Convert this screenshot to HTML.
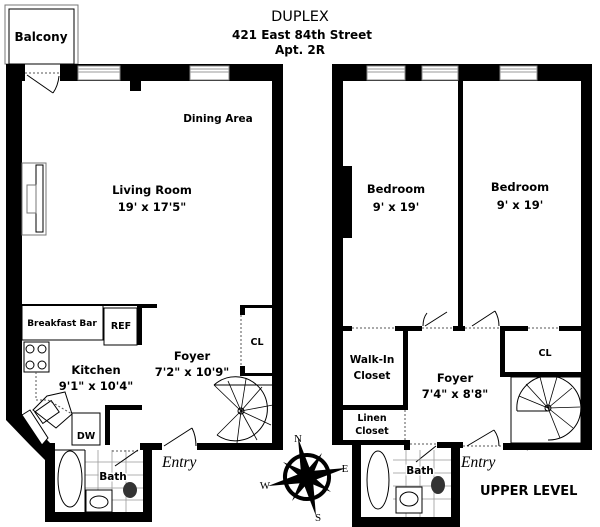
<!DOCTYPE html>
<html><head><meta charset="utf-8"><style>
html,body{margin:0;padding:0;background:#fff}
svg{display:block}
text{font-family:"DejaVu Sans","Liberation Sans",sans-serif;font-weight:bold;fill:#000}
</style></head><body>
<svg width="600" height="527" viewBox="0 0 600 527" xmlns="http://www.w3.org/2000/svg">
<text x="300" y="21" text-anchor="middle" style="font-weight:normal" font-size="14.5">DUPLEX</text>
<text x="302" y="39" text-anchor="middle" font-size="12">421 East 84th Street</text>
<text x="300" y="54" text-anchor="middle" font-size="12">Apt. 2R</text>

<rect x="5" y="5" width="73" height="59" fill="none" stroke="#777" stroke-width="1"/>
<rect x="9" y="9" width="65" height="55" fill="none" stroke="#000" stroke-width="1"/>
<text x="41" y="41" text-anchor="middle" font-size="12">Balcony</text>
<g fill="#000">
<rect x="6" y="64" width="19" height="17"/>
<rect x="60" y="64" width="223" height="17"/>
<rect x="6" y="64" width="16" height="352"/>
<polygon points="6,414 22,414 52,445 45,456 45,460 30,445 6,420"/>
<rect x="272" y="64" width="11" height="386"/>
<rect x="197" y="443" width="86" height="7"/>
<rect x="130" y="81" width="11" height="10"/>
<rect x="45" y="443" width="10" height="79"/>
<rect x="45" y="512" width="107" height="10"/>
<rect x="143" y="443" width="9" height="79"/>
<rect x="140" y="443" width="22" height="7"/>
<rect x="105" y="405" width="37" height="5"/>
<rect x="105" y="405" width="5" height="40"/>
<rect x="137" y="305" width="5" height="40"/>
<rect x="142" y="305" width="15" height="3"/>
<rect x="240" y="305" width="5" height="10"/>
<rect x="240" y="366" width="5" height="10"/>
<rect x="245" y="373" width="27" height="3"/>
<rect x="240" y="305" width="32" height="3"/>
</g>
<g fill="#fff" stroke="#888" stroke-width="1">
<rect x="78" y="66" width="42" height="14"/><rect x="190" y="66" width="39" height="14"/>
</g>
<g stroke="#999"><line x1="78" y1="69" x2="120" y2="69"/><line x1="78" y1="72" x2="120" y2="72"/><line x1="190" y1="69" x2="229" y2="69"/><line x1="190" y1="72" x2="229" y2="72"/></g>
<line x1="25" y1="73" x2="60" y2="73" stroke="#555" stroke-dasharray="2,2"/>
<line x1="27" y1="75" x2="53" y2="93" stroke="#000"/>
<path d="M53,93 Q58,86 59,76" fill="none" stroke="#000"/>
<rect x="22" y="163" width="24" height="72" fill="#fff" stroke="#777"/>
<rect x="36" y="165" width="7" height="67" fill="none" stroke="#000"/>
<rect x="27" y="185" width="9" height="28" fill="none" stroke="#777"/>
<text x="218" y="122" text-anchor="middle" font-size="10.5">Dining Area</text>
<text x="152" y="194" text-anchor="middle" font-size="11.5">Living Room</text>
<text x="152" y="211" text-anchor="middle" font-size="11.5">19' x 17'5"</text>
<line x1="22" y1="305" x2="157" y2="305" stroke="#000" stroke-width="2"/>
<rect x="22" y="305" width="81" height="35" fill="none" stroke="#000"/>
<text x="62" y="326" text-anchor="middle" font-size="9">Breakfast Bar</text>
<rect x="104" y="308" width="33" height="37" fill="none" stroke="#000"/>
<text x="121" y="329" text-anchor="middle" font-size="9.5">REF</text>
<rect x="24" y="342" width="25" height="30" fill="none" stroke="#000"/>
<g fill="none" stroke="#000"><circle cx="30" cy="349" r="4"/><circle cx="42" cy="349" r="4"/><circle cx="30" cy="365" r="4"/><circle cx="42" cy="365" r="4"/></g>
<path d="M36,372 V400 H48 L72,414 V445 M72,413 H100 V445" fill="none" stroke="#555" stroke-dasharray="2,2"/>
<polygon points="47,396 65,392 72,414 56,428 33,410" fill="none" stroke="#000"/>
<rect x="37" y="405" width="20" height="14" fill="none" stroke="#000" transform="rotate(-35 47 412)"/>
<polygon points="22,415 30,410 48,438 42,445" fill="#fff" stroke="#000"/>
<rect x="72" y="413" width="28" height="32" fill="none" stroke="#000"/>
<text x="86" y="439" text-anchor="middle" font-size="9.5">DW</text>
<text x="96" y="374" text-anchor="middle" font-size="11.5">Kitchen</text>
<text x="96" y="390" text-anchor="middle" font-size="11.5">9'1" x 10'4"</text>
<text x="192" y="360" text-anchor="middle" font-size="11.5">Foyer</text>
<text x="192" y="376" text-anchor="middle" font-size="11.5">7'2" x 10'9"</text>
<text x="257" y="345" text-anchor="middle" font-size="9.5">CL</text>
<line x1="241" y1="315" x2="241" y2="366" stroke="#555" stroke-dasharray="2,2"/>
<g fill="none" stroke="#000">
<path d="M214,385 A32,32 0 1 1 217,435" />
<path d="M214,385 L272,385" />
<circle cx="241" cy="411" r="3"/>
<g stroke-width="0.8">
<line x1="241" y1="411" x2="214" y2="385"/><line x1="241" y1="411" x2="228" y2="381"/><line x1="241" y1="411" x2="246" y2="379"/><line x1="241" y1="411" x2="262" y2="387"/><line x1="241" y1="411" x2="273" y2="405"/><line x1="241" y1="411" x2="271" y2="425"/><line x1="241" y1="411" x2="257" y2="440"/><line x1="241" y1="411" x2="237" y2="443"/><line x1="241" y1="411" x2="217" y2="435"/>
</g></g>
<line x1="164" y1="446" x2="192" y2="428" stroke="#000"/>
<path d="M192,428 Q196,436 196,446" fill="none" stroke="#000"/>
<text x="162" y="467" font-style="italic" style="font-weight:normal;font-family:'Liberation Serif',serif" font-size="15.5">Entry</text>
<g stroke="#999" stroke-width="0.8"><line x1="85" y1="462" x2="143" y2="462"/><line x1="85" y1="475" x2="143" y2="475"/><line x1="85" y1="488" x2="143" y2="488"/><line x1="85" y1="500" x2="143" y2="500"/><line x1="98" y1="450" x2="98" y2="512"/><line x1="112" y1="450" x2="112" y2="512"/><line x1="126" y1="450" x2="126" y2="512"/></g>
<ellipse cx="70" cy="479" rx="12" ry="28" fill="#fff" stroke="#000"/>
<line x1="55" y1="450" x2="85" y2="450" stroke="#000"/><line x1="85" y1="450" x2="85" y2="512" stroke="#000"/>
<line x1="112" y1="451" x2="140" y2="451" stroke="#555" stroke-dasharray="2,2"/>
<line x1="138" y1="450" x2="115" y2="466" stroke="#000"/>
<rect x="86" y="490" width="26" height="22" fill="#fff" stroke="#000"/>
<ellipse cx="99" cy="502" rx="9" ry="6" fill="none" stroke="#000"/>
<ellipse cx="130" cy="490" rx="7" ry="8" fill="#333"/>
<text x="113" y="480" text-anchor="middle" font-size="10.5" stroke="#fff" stroke-width="3" paint-order="stroke">Bath</text>

<g fill="#000">
<rect x="332" y="64" width="260" height="17"/>
<rect x="332" y="64" width="11" height="381"/>
<rect x="581" y="64" width="11" height="386"/>
<rect x="458" y="64" width="5" height="267"/>
<rect x="343" y="166" width="9" height="72"/>
<rect x="343" y="326" width="9" height="5"/>
<rect x="395" y="326" width="27" height="5"/>
<rect x="453" y="326" width="12" height="5"/>
<rect x="500" y="326" width="28" height="5"/>
<rect x="559" y="326" width="22" height="5"/>
<rect x="403" y="326" width="5" height="84"/>
<rect x="343" y="405" width="65" height="5"/>
<rect x="332" y="440" width="75" height="5"/>
<rect x="500" y="326" width="5" height="50"/>
<rect x="500" y="372" width="81" height="5"/>
<rect x="352" y="443" width="9" height="84"/>
<rect x="352" y="517" width="108" height="10"/>
<rect x="451" y="443" width="9" height="84"/>
<rect x="404" y="440" width="6" height="10"/>
<rect x="437" y="442" width="26" height="6"/>
<rect x="503" y="443" width="89" height="7"/>
</g>
<g fill="#fff" stroke="#888" stroke-width="1">
<rect x="367" y="66" width="38" height="14"/><rect x="422" y="66" width="36" height="14"/><rect x="500" y="66" width="37" height="14"/>
</g>
<g stroke="#999"><line x1="367" y1="69" x2="405" y2="69"/><line x1="367" y1="72" x2="405" y2="72"/><line x1="422" y1="69" x2="458" y2="69"/><line x1="422" y1="72" x2="458" y2="72"/><line x1="500" y1="69" x2="537" y2="69"/><line x1="500" y1="72" x2="537" y2="72"/></g>
<g stroke="#555" stroke-dasharray="2,2" fill="none">
<line x1="352" y1="328" x2="395" y2="328"/><line x1="422" y1="328" x2="453" y2="328"/><line x1="465" y1="328" x2="500" y2="328"/><line x1="528" y1="328" x2="559" y2="328"/>
<line x1="405" y1="410" x2="405" y2="440"/><line x1="410" y1="444" x2="437" y2="444"/><line x1="463" y1="446" x2="503" y2="446"/>
</g>
<g fill="none" stroke="#000">
<line x1="425" y1="326" x2="447" y2="312"/><path d="M427,313 Q423,318 423,326"/>
<line x1="472" y1="326" x2="495" y2="311"/><path d="M495,311 Q499,318 499,326"/>
<line x1="467" y1="446" x2="494" y2="430"/><path d="M494,430 Q499,437 499,446"/>
<line x1="436" y1="446" x2="416" y2="462"/>
</g>
<text x="396" y="193" text-anchor="middle" font-size="11.5">Bedroom</text>
<text x="396" y="211" text-anchor="middle" font-size="11.5">9' x 19'</text>
<text x="520" y="191" text-anchor="middle" font-size="11.5">Bedroom</text>
<text x="520" y="209" text-anchor="middle" font-size="11.5">9' x 19'</text>
<text x="372" y="363" text-anchor="middle" font-size="10.5">Walk-In</text>
<text x="372" y="379" text-anchor="middle" font-size="10.5">Closet</text>
<text x="372" y="421" text-anchor="middle" font-size="9.5">Linen</text>
<text x="372" y="434" text-anchor="middle" font-size="9.5">Closet</text>
<text x="455" y="382" text-anchor="middle" font-size="11.5">Foyer</text>
<text x="455" y="398" text-anchor="middle" font-size="11.5">7'4" x 8'8"</text>
<text x="545" y="356" text-anchor="middle" font-size="9.5">CL</text>
<rect x="511" y="377" width="70" height="66" fill="none" stroke="#000"/>
<g fill="none" stroke="#000">
<path d="M517,411 A32,32 0 1 1 548,440"/>
<line x1="517" y1="411" x2="548" y2="411"/>
<circle cx="548" cy="408" r="3"/>
<g stroke-width="0.8">
<line x1="548" y1="408" x2="519" y2="396"/><line x1="548" y1="408" x2="526" y2="384"/><line x1="548" y1="408" x2="540" y2="377"/><line x1="548" y1="408" x2="557" y2="377"/><line x1="548" y1="408" x2="572" y2="388"/><line x1="548" y1="408" x2="580" y2="407"/><line x1="548" y1="408" x2="573" y2="428"/><line x1="548" y1="408" x2="560" y2="438"/>
</g></g>
<text x="584" y="449" text-anchor="end" style="font-weight:normal" font-size="6" fill="#fff">floorplans4realtors.com</text>
<text x="461" y="467" font-style="italic" style="font-weight:normal;font-family:'Liberation Serif',serif" font-size="15.5">Entry</text>
<text x="480" y="495" font-size="13">UPPER LEVEL</text>
<g stroke="#999" stroke-width="0.8"><line x1="393" y1="460" x2="451" y2="460"/><line x1="393" y1="473" x2="451" y2="473"/><line x1="393" y1="486" x2="451" y2="486"/><line x1="393" y1="499" x2="451" y2="499"/><line x1="406" y1="450" x2="406" y2="517"/><line x1="420" y1="450" x2="420" y2="517"/><line x1="434" y1="450" x2="434" y2="517"/></g>
<ellipse cx="378" cy="480" rx="11" ry="29" fill="#fff" stroke="#000"/>
<rect x="396" y="487" width="26" height="26" fill="#fff" stroke="#000"/>
<ellipse cx="409" cy="499" rx="9" ry="7" fill="none" stroke="#000"/>
<ellipse cx="438" cy="485" rx="7" ry="9" fill="#333"/>
<text x="420" y="474" text-anchor="middle" font-size="10.5" stroke="#fff" stroke-width="3" paint-order="stroke">Bath</text>

<g transform="translate(307,477) rotate(-13)">
<circle r="22" fill="none" stroke="#000" stroke-width="4"/>
<polygon points="0,-40 5,-5 0,0 -5,-5" fill="#000"/>
<polygon points="0,40 5,5 0,0 -5,5" fill="#000"/>
<polygon points="40,0 5,5 0,0 5,-5" fill="#000"/>
<polygon points="-40,0 -5,5 0,0 -5,-5" fill="#000"/>
<polygon points="20,-20 4,2 0,0 -2,-4" fill="#000"/>
<polygon points="-20,20 -4,-2 0,0 2,4" fill="#000"/>
<polygon points="20,20 -2,4 0,0 4,-2" fill="#000"/>
<polygon points="-20,-20 2,-4 0,0 -4,2" fill="#000"/>
</g>
<text x="298" y="442" text-anchor="middle" font-size="11" style="font-weight:normal;font-family:'Liberation Serif',serif">N</text>
<text x="345" y="472" text-anchor="middle" font-size="11" style="font-weight:normal;font-family:'Liberation Serif',serif">E</text>
<text x="265" y="489" text-anchor="middle" font-size="11" style="font-weight:normal;font-family:'Liberation Serif',serif">W</text>
<text x="318" y="521" text-anchor="middle" font-size="11" style="font-weight:normal;font-family:'Liberation Serif',serif">S</text>
</svg>
</body></html>
